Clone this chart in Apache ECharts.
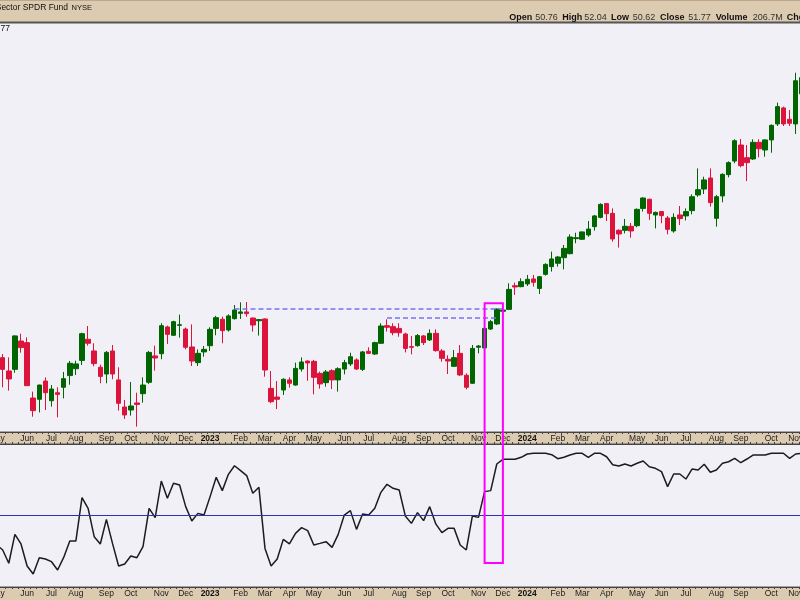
<!DOCTYPE html>
<html><head><meta charset="utf-8">
<script src="https://cdn.jsdelivr.net/npm/echarts/dist/echarts.min.js"></script>
<style>html,body{margin:0;padding:0;background:#dccbb0}#c{width:800px;height:600px}</style>
</head><body><div id="c"></div>
<script>
// Weekly bars (Monday of each week)
const weeks = [
'2022-05-02','2022-05-09','2022-05-16','2022-05-23','2022-05-30','2022-06-06','2022-06-13','2022-06-20','2022-06-27','2022-07-04','2022-07-11','2022-07-18','2022-07-25','2022-08-01','2022-08-08','2022-08-15','2022-08-22','2022-08-29','2022-09-05','2022-09-12','2022-09-19','2022-09-26','2022-10-03','2022-10-10','2022-10-17','2022-10-24','2022-10-31','2022-11-07','2022-11-14','2022-11-21','2022-11-28','2022-12-05','2022-12-12','2022-12-19','2022-12-26',
'2023-01-02','2023-01-09','2023-01-16','2023-01-23','2023-01-30','2023-02-06','2023-02-13','2023-02-20','2023-02-27','2023-03-06','2023-03-13','2023-03-20','2023-03-27','2023-04-03','2023-04-10','2023-04-17','2023-04-24','2023-05-01','2023-05-08','2023-05-15','2023-05-22','2023-05-29','2023-06-05','2023-06-12','2023-06-19','2023-06-26','2023-07-03','2023-07-10','2023-07-17','2023-07-24','2023-07-31','2023-08-07','2023-08-14','2023-08-21','2023-08-28','2023-09-04','2023-09-11','2023-09-18','2023-09-25','2023-10-02','2023-10-09','2023-10-16','2023-10-23','2023-10-30','2023-11-06','2023-11-13','2023-11-20','2023-11-27','2023-12-04','2023-12-11','2023-12-18','2023-12-25',
'2024-01-01','2024-01-08','2024-01-15','2024-01-22','2024-01-29','2024-02-05','2024-02-12','2024-02-19','2024-02-26','2024-03-04','2024-03-11','2024-03-18','2024-03-25','2024-04-01','2024-04-08','2024-04-15','2024-04-22','2024-04-29','2024-05-06','2024-05-13','2024-05-20','2024-05-27','2024-06-03','2024-06-10','2024-06-17','2024-06-24','2024-07-01','2024-07-08','2024-07-15','2024-07-22','2024-07-29','2024-08-05','2024-08-12','2024-08-19','2024-08-26','2024-09-02','2024-09-09','2024-09-16','2024-09-23','2024-09-30','2024-10-07','2024-10-14','2024-10-21','2024-10-28','2024-11-04','2024-11-11'
];

const open = ['-',
34.27,33.44,33.54,35.31,35.21,31.75,31.67,32.81,31.58,32.08,
32.42,33.15,33.58,34.10,35.42,34.69,33.67,33.25,34.69,32.88,
31.19,31.00,31.44,32.02,32.73,34.38,34.52,36.19,35.67,36.29,
36.06,34.94,33.96,34.63,35.02,36.10,36.67,36.00,36.71,37.04,
37.13,36.75,36.58,36.69,32.35,31.81,32.25,32.88,32.56,33.56,
34.06,34.04,33.29,32.71,33.46,32.88,33.56,33.88,34.13,33.54,
34.67,34.50,35.17,36.27,36.21,36.10,35.75,34.96,35.02,35.63,
35.38,35.79,34.69,34.17,33.73,34.54,33.17,32.67,34.92,34.88,
36.06,36.38,37.17,37.29,38.77,38.71,38.88,39.19,38.60,39.48,
39.96,40.17,40.52,40.77,41.71,41.67,41.94,42.46,43.04,43.90,
43.29,42.23,42.23,42.48,42.52,43.60,44.17,43.19,43.40,43.00,
42.19,43.19,43.13,43.46,44.44,44.81,45.50,42.98,44.38,45.71,
46.56,47.56,46.77,46.69,47.73,47.25,47.88,48.88,49.88,49.17,
48.88,50.76];

const close = ['-',
33.54,32.94,35.63,34.90,32.52,30.96,32.56,32.08,32.31,31.98,
32.96,33.92,33.88,35.77,35.17,33.90,33.10,34.60,33.25,31.42,
30.69,31.25,31.35,32.56,34.60,34.25,36.27,35.73,36.52,36.33,
34.92,34.06,34.54,34.79,36.04,36.77,35.96,36.88,37.25,37.13,
37.02,36.31,36.65,33.50,31.52,31.67,32.92,32.67,33.60,34.00,
33.94,33.04,32.63,33.38,32.88,33.58,33.96,34.33,33.56,34.63,
34.54,35.21,36.25,36.17,35.83,35.83,34.85,34.92,35.65,35.21,
35.79,34.71,34.23,34.06,34.27,33.19,32.42,34.85,35.00,36.10,
36.52,37.31,37.25,38.54,38.69,39.02,39.17,38.98,39.33,40.10,
40.44,40.56,41.10,41.81,41.77,42.13,42.31,43.13,43.85,43.27,
41.69,42.00,42.48,42.19,43.54,44.25,43.29,43.35,43.15,42.29,
43.04,42.96,43.40,44.33,44.77,45.38,43.96,44.33,45.73,46.46,
47.83,46.27,46.46,47.73,47.33,47.88,48.79,49.96,48.88,48.92,
51.58,51.77];

const high = ['-',
34.50,34.29,35.67,35.77,35.54,32.15,32.58,33.04,32.56,32.42,
33.38,34.06,34.08,35.83,36.25,35.17,33.83,34.69,35.06,33.67,
31.63,32.75,32.08,33.04,34.69,35.02,36.42,36.27,36.58,36.96,
36.15,36.35,34.79,35.00,36.17,36.88,36.83,36.98,37.56,37.73,
37.75,36.77,36.67,36.73,33.44,32.81,32.98,33.04,33.96,34.29,
34.10,34.13,33.40,33.50,33.54,33.67,34.13,34.58,34.23,34.69,
34.92,35.27,36.42,36.67,36.42,36.42,35.83,35.63,35.75,35.69,
36.04,36.04,34.81,34.42,34.75,35.06,33.29,35.06,35.06,36.17,
36.63,37.35,37.35,38.92,38.96,39.23,39.44,39.44,39.38,40.17,
40.90,40.63,41.31,41.98,42.08,42.15,42.81,43.19,43.92,43.92,
43.60,42.29,42.94,42.69,43.60,44.29,44.21,43.40,43.44,43.13,
43.29,43.75,43.60,44.48,46.10,45.58,46.10,44.44,45.79,46.54,
47.92,47.94,47.56,47.92,47.92,47.92,48.85,50.21,49.96,49.75,
52.08,52.04];

const low = ['-',
32.42,32.21,33.33,34.58,32.50,30.58,30.85,31.00,31.21,30.54,
31.73,32.58,33.19,33.81,35.02,33.73,32.67,32.67,32.92,30.96,
30.44,30.65,29.96,31.46,32.63,33.46,34.17,35.13,35.65,35.52,
34.79,33.75,33.75,34.33,34.69,35.67,35.17,35.90,36.65,36.69,
36.83,35.90,35.65,33.08,31.42,31.06,31.94,32.40,32.52,33.40,
32.83,31.98,32.33,32.46,32.31,32.15,33.23,33.75,33.50,33.44,
34.50,34.44,35.13,35.90,35.67,35.58,34.60,34.48,34.96,35.06,
35.31,34.65,34.02,33.25,33.71,33.13,32.29,32.63,34.54,34.83,
36.00,36.31,37.08,37.25,38.19,38.67,38.75,38.71,38.25,39.40,
39.65,39.96,39.79,40.73,41.42,41.63,41.83,42.21,42.98,42.81,
41.52,41.15,42.04,41.77,42.42,43.40,42.88,42.35,42.67,41.98,
42.08,42.56,42.85,43.23,44.33,44.50,43.71,42.46,43.98,45.54,
46.42,46.17,45.31,46.63,46.79,46.83,47.08,48.75,48.75,48.75,
48.25,50.62];

// Lower panel oscillator (0-100 scale, centre line 50)
const indicator = [29.6,
25.9,16.6,36.8,30.1,14.7,9.1,20.5,19.6,17.7,11.9,
20.7,32.2,32.2,62.5,55.0,35.2,30.1,47.3,30.5,14.7,
16.1,21.7,20.5,28.2,55.0,48.5,74.1,62.0,72.5,71.3,
56.2,46.2,51.5,50.3,63.2,76.7,67.4,78.8,84.8,81.4,
77.9,65.5,69.7,27.0,14.7,19.6,33.3,30.1,37.5,41.5,
39.4,29.4,30.5,31.7,27.7,36.8,50.3,53.4,40.3,51.0,
50.3,55.0,66.2,71.8,69.0,67.8,49.7,44.5,52.0,46.4,
56.2,44.1,38.0,41.0,41.0,29.4,25.9,49.7,48.7,66.7,
67.4,86.0,89.3,89.3,89.3,90.7,93.0,93.5,93.5,93.5,
92.5,89.7,90.7,92.3,93.5,93.5,90.7,93.5,93.5,91.1,
85.5,84.6,86.0,84.6,86.5,88.1,84.1,83.0,80.7,70.2,
79.0,79.0,75.5,82.5,81.8,85.8,80.2,81.8,86.5,87.6,
90.0,86.9,89.5,92.3,92.3,92.3,93.5,93.5,93.5,90.0,
93.0,93.5];
const indicatorCenter = 50;

// Dashed resistance lines
const resLevels = [37.32, 36.77];
const resStart = ['2023-01-30', '2023-07-24'];
const resEnd = ['2023-12-04', '2023-11-27'];

// Highlight box
const boxWeeks = ['2023-11-13', '2023-12-04'];
const boxTopPrice = 37.67;
const boxBottomIndicator = 16.8;

const monthNames = ['Jan','Feb','Mar','Apr','May','Jun','Jul','Aug','Sep','Oct','Nov','Dec'];
const lastBar = {Open:'50.76', High:'52.04', Low:'50.62', Close:'51.77', Volume:'206.7M'};

const candles = weeks.map((w, k) => open[k] === '-' ? ['-','-','-','-'] : [open[k], close[k], low[k], high[k]]);

const FONT = 'Liberation Sans';
const labelInterval = (idx, val) => parseInt(val.slice(8, 10), 10) <= 7;
const labelFormatter = (val) => {
  const m = parseInt(val.slice(5, 7), 10);
  return m === 1 ? '{y|' + val.slice(0, 4) + '}' : monthNames[m - 1];
};
const axisLabelCommon = {
  show: true, interval: labelInterval, formatter: labelFormatter,
  fontFamily: FONT, fontSize: 8.5, color: '#1a1a1a', margin: 2,
  rich: { y: { fontFamily: FONT, fontSize: 8.5, fontWeight: 'bold', color: '#111' } }
};

const chart = echarts.init(document.getElementById('c'), null, {renderer: 'canvas'});

const GL = -6.45, GW = 811.3;
const option = {
  backgroundColor: '#dccbb0',
  animation: false,
  grid: [
    {left: GL, width: GW, top: 23, height: 409, show: true, containLabel: false, outerBoundsMode: 'none', backgroundColor: '#f0f0f6', borderColor: '#555', borderWidth: 1},
    {left: GL, width: GW, top: 444, height: 143, show: true, containLabel: false, outerBoundsMode: 'none', backgroundColor: '#f0f0f6', borderColor: '#555', borderWidth: 1}
  ],
  xAxis: [
    {type: 'category', gridIndex: 0, data: weeks, position: 'bottom', boundaryGap: true,
     axisLine: {show: true, lineStyle: {color: '#444', width: 1}},
     axisTick: {show: true, interval: 0, length: 2, lineStyle: {color: '#444'}},
     axisLabel: axisLabelCommon, splitLine: {show: false}},
    {type: 'category', gridIndex: 1, data: weeks, position: 'bottom', boundaryGap: true,
     axisLine: {show: true, lineStyle: {color: '#444', width: 1}},
     axisTick: {show: true, interval: 0, length: 2, lineStyle: {color: '#444'}},
     axisLabel: axisLabelCommon, splitLine: {show: false}},
    {type: 'category', gridIndex: 1, data: weeks, position: 'top', boundaryGap: true,
     axisLine: {show: true, lineStyle: {color: '#444', width: 1}},
     axisTick: {show: true, interval: 0, length: 2, lineStyle: {color: '#444'}},
     axisLabel: {show: false}, splitLine: {show: false}}
  ],
  yAxis: [
    {type: 'value', gridIndex: 0, min: 29.625, max: 55.1875, show: false, splitLine: {show: false}},
    {type: 'value', gridIndex: 1, min: 0, max: 100, show: false, splitLine: {show: false}}
  ],
  series: [
    {type: 'candlestick', xAxisIndex: 0, yAxisIndex: 0, data: candles, barWidth: 5,
     itemStyle: {color: '#006400', color0: '#dc143c', borderColor: '#006400', borderColor0: '#dc143c', borderWidth: 1},
     markLine: {silent: true, symbol: ['none', 'none'], label: {show: false},
       lineStyle: {type: [5, 3], color: '#7474f6', width: 1.7},
       data: resLevels.map((lv, i) => [{coord: [resStart[i], lv]}, {coord: [resEnd[i], lv]}])}
    },
    {type: 'line', xAxisIndex: 1, yAxisIndex: 1, data: indicator, showSymbol: false, symbol: 'none',
     lineStyle: {color: '#1c1c1c', width: 1.5}, z: 3,
     markLine: {silent: true, symbol: ['none', 'none'], label: {show: false},
       lineStyle: {type: 'solid', color: '#3030b0', width: 1},
       data: [{yAxis: indicatorCenter}]}
    }
  ],
  graphic: []
};
chart.setOption(option);

// header & texts
const g = [];
g.push({type: 'rect', z: 50, shape: {x: 0, y: 0, width: 800, height: 1}, style: {fill: '#b9a98a'}});
g.push({type: 'rect', z: 50, shape: {x: 0, y: 21.5, width: 800, height: 1.5}, style: {fill: '#555'}});
g.push({type: 'text', z: 50, x: 68, y: 8, style: {text: 'Financial Select Sector SPDR Fund', fontFamily: FONT, fontSize: 8.5, fill: '#111', align: 'right', verticalAlign: 'middle'}});
g.push({type: 'text', z: 50, x: 71.5, y: 8, style: {text: 'NYSE', fontFamily: FONT, fontSize: 7.5, fill: '#111', align: 'left', verticalAlign: 'middle'}});
g.push({type: 'text', z: 50, x: 10, y: 29, style: {text: 'XLF (Weekly) 51.77', fontFamily: FONT, fontSize: 8.5, fill: '#111', align: 'right', verticalAlign: 'middle'}});
const hdr = [['Open', 509.3, 535.3], ['High', 562.3, 584.3], ['Low', 611, 632.7], ['Close', 660, 688.3], ['Volume', 715.7, 752.7]];
hdr.forEach(([k, xl, xv]) => {
  g.push({type: 'text', z: 50, x: xl, y: 17.5, style: {text: k, fontFamily: FONT, fontSize: 9, fontWeight: 'bold', fill: '#111', align: 'left', verticalAlign: 'middle'}});
  g.push({type: 'text', z: 50, x: xv, y: 17.5, style: {text: lastBar[k], fontFamily: FONT, fontSize: 9, fill: '#333', align: 'left', verticalAlign: 'middle'}});
});
g.push({type: 'text', z: 50, x: 786.7, y: 17.5, style: {text: 'Chg', fontFamily: FONT, fontSize: 9, fontWeight: 'bold', fill: '#111', align: 'left', verticalAlign: 'middle'}});

// highlight box from axis conversions
const bx1 = chart.convertToPixel({xAxisIndex: 0}, boxWeeks[0]);
const bx2 = chart.convertToPixel({xAxisIndex: 0}, boxWeeks[1]);
const by1 = chart.convertToPixel({yAxisIndex: 0}, boxTopPrice);
const by2 = chart.convertToPixel({yAxisIndex: 1}, boxBottomIndicator);
g.push({type: 'rect', z: 100, shape: {x: bx1, y: by1, width: bx2 - bx1, height: by2 - by1}, style: {fill: 'none', stroke: '#ff00ff', lineWidth: 2}});

chart.setOption({graphic: g});
</script>
</body></html>
